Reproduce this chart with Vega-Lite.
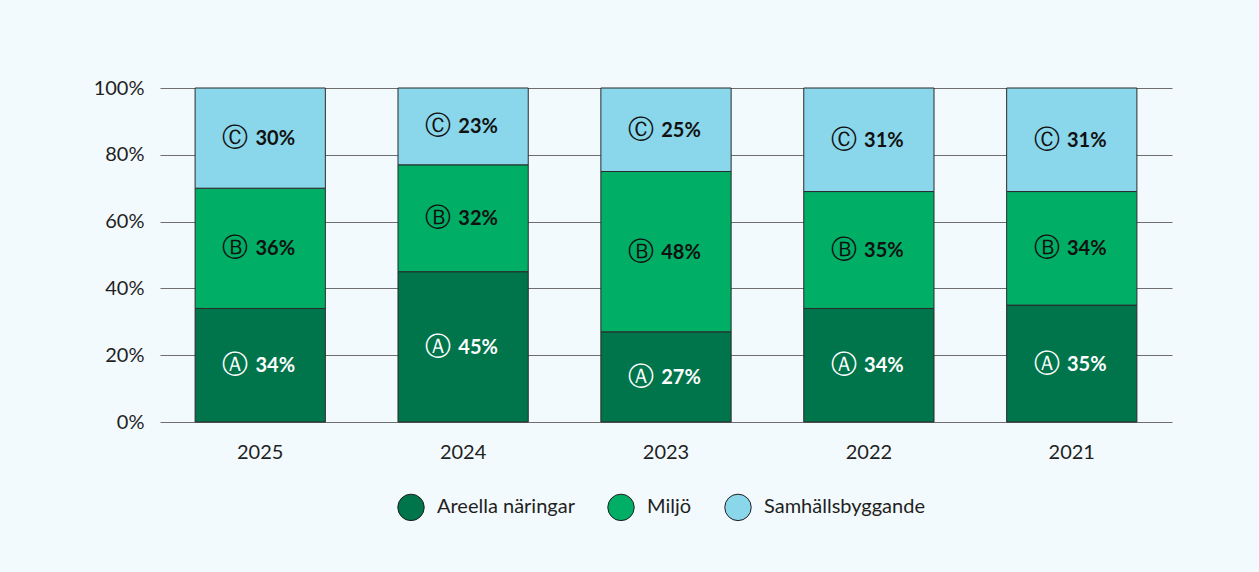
{
  "$schema": "https://vega.github.io/schema/vega-lite/v6.json",
  "autosize": {"type": "none"},
  "width": 1012,
  "height": 334,
  "padding": {"left": 160, "top": 88, "right": 87, "bottom": 150},
  "background": "#f3fafd",
  "data": {"values": [
    {"year": "2025", "cat": "A", "name": "Areella näringar", "letter": "Ⓐ", "value": 34},
    {"year": "2025", "cat": "B", "name": "Miljö", "letter": "Ⓑ", "value": 36},
    {"year": "2025", "cat": "C", "name": "Samhällsbyggande", "letter": "Ⓒ", "value": 30},
    {"year": "2024", "cat": "A", "name": "Areella näringar", "letter": "Ⓐ", "value": 45},
    {"year": "2024", "cat": "B", "name": "Miljö", "letter": "Ⓑ", "value": 32},
    {"year": "2024", "cat": "C", "name": "Samhällsbyggande", "letter": "Ⓒ", "value": 23},
    {"year": "2023", "cat": "A", "name": "Areella näringar", "letter": "Ⓐ", "value": 27},
    {"year": "2023", "cat": "B", "name": "Miljö", "letter": "Ⓑ", "value": 48},
    {"year": "2023", "cat": "C", "name": "Samhällsbyggande", "letter": "Ⓒ", "value": 25},
    {"year": "2022", "cat": "A", "name": "Areella näringar", "letter": "Ⓐ", "value": 34},
    {"year": "2022", "cat": "B", "name": "Miljö", "letter": "Ⓑ", "value": 35},
    {"year": "2022", "cat": "C", "name": "Samhällsbyggande", "letter": "Ⓒ", "value": 31},
    {"year": "2021", "cat": "A", "name": "Areella näringar", "letter": "Ⓐ", "value": 35},
    {"year": "2021", "cat": "B", "name": "Miljö", "letter": "Ⓑ", "value": 34},
    {"year": "2021", "cat": "C", "name": "Samhällsbyggande", "letter": "Ⓒ", "value": 31}
  ]},
  "transform": [
    {"stack": "value", "groupby": ["year"], "sort": [{"field": "cat", "order": "ascending"}], "as": ["y0", "y1"], "offset": "normalize"},
    {"calculate": "(datum.y0 + datum.y1) / 2", "as": "ymid"},
    {"calculate": "datum.value + '%'", "as": "label"}
  ],
  "encoding": {
    "x": {
      "field": "year", "type": "nominal",
      "sort": ["2025", "2024", "2023", "2022", "2021"],
      "scale": {"paddingInner": 0.358, "paddingOuter": 0.173},
      "axis": {"title": null, "domain": false, "ticks": false, "labelAngle": 0, "labelFontSize": 20, "labelPadding": 20, "labelColor": "#1f1f1f", "labelFont": "Lato"}
    }
  },
  "layer": [
    {
      "mark": {"type": "bar", "stroke": "#2a2a2a", "strokeWidth": 1},
      "encoding": {
        "y": {
          "field": "y0", "type": "quantitative",
          "scale": {"domain": [0, 1]},
          "axis": {"title": null, "format": ".0%", "values": [0, 0.2, 0.4, 0.6, 0.8, 1], "domain": false, "ticks": false, "labelPadding": 16, "labelFontSize": 20, "labelColor": "#1f1f1f", "labelFont": "Lato", "grid": true, "gridColor": "#6e6e6e", "gridWidth": 1}
        },
        "y2": {"field": "y1"},
        "color": {
          "field": "name", "type": "nominal",
          "sort": ["Areella näringar", "Miljö", "Samhällsbyggande"],
          "scale": {"domain": ["Areella näringar", "Miljö", "Samhällsbyggande"], "range": ["#00744a", "#00ae66", "#8ad7eb"]},
          "legend": {
            "title": null, "orient": "none", "direction": "horizontal",
            "legendX": 237, "legendY": 405,
            "symbolType": "circle", "symbolSize": 700, "symbolStrokeColor": "#1f1f1f", "symbolStrokeWidth": 1, "symbolOpacity": 1,
            "labelFontSize": 20, "labelFont": "Lato", "labelColor": "#1f1f1f", "labelOffset": 12, "columnPadding": 30, "labelLimit": 400
          }
        }
      }
    },
    {
      "mark": {"type": "text", "font": "DejaVu Sans", "fontSize": 26, "dx": -25, "baseline": "middle", "align": "center", "fontWeight": "normal"},
      "encoding": {
        "y": {"field": "ymid", "type": "quantitative"},
        "text": {"field": "letter"},
        "color": {"condition": {"test": "datum.cat === 'A'", "value": "#ffffff"}, "value": "#111111"}
      }
    },
    {
      "mark": {"type": "text", "font": "Lato", "fontSize": 20, "dx": 15, "dy": 1, "baseline": "middle", "align": "center", "fontWeight": "bold"},
      "encoding": {
        "y": {"field": "ymid", "type": "quantitative"},
        "text": {"field": "label"},
        "color": {"condition": {"test": "datum.cat === 'A'", "value": "#ffffff"}, "value": "#111111"}
      }
    }
  ],
  "config": {"view": {"stroke": null}, "font": "Lato"}
}
